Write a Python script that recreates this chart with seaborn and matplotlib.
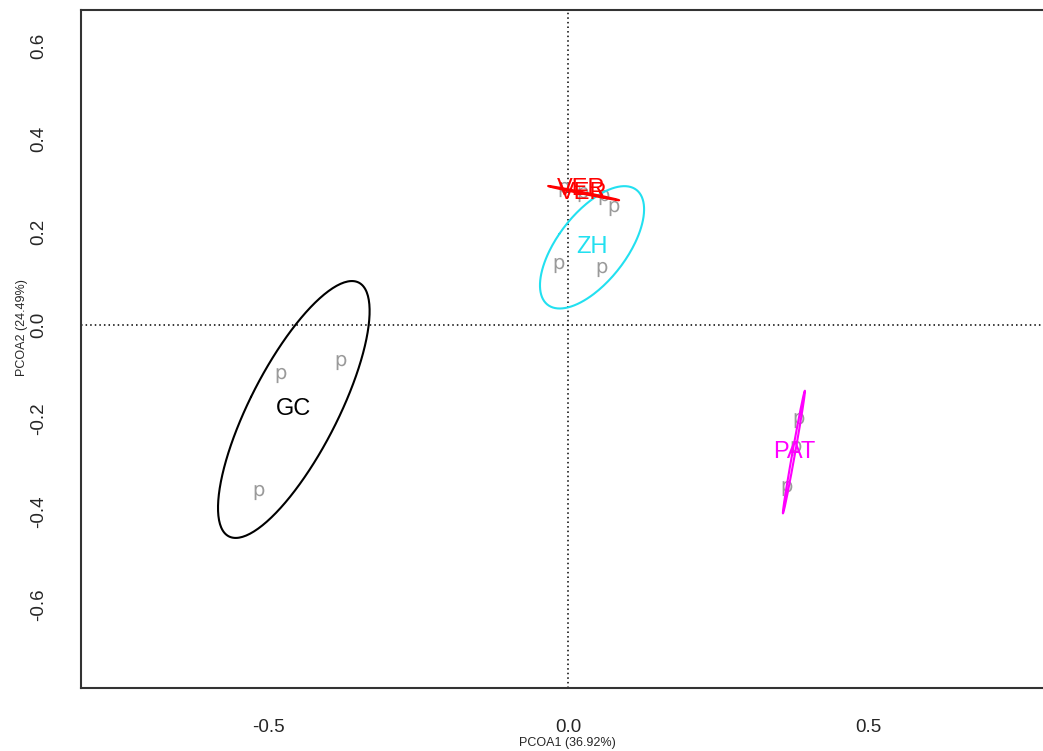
import numpy as np
import pandas as pd
import seaborn as sns
import matplotlib.pyplot as plt

# PCoA scores (one "p" per sample)
groups = ["GC", "GC", "GC", "ZH", "ZH", "ZH", "VER", "VER", "VER", "PAT", "PAT", "PAT"]
pcoa1 = [-0.479, -0.379, -0.515, -0.015, 0.057, 0.077, -0.007, 0.025, 0.059, 0.385, 0.379, 0.365]
pcoa2 = [-0.107, -0.079, -0.358, 0.129, 0.120, 0.251, 0.292, 0.282, 0.275, -0.204, -0.264, -0.350]
group_order = ["GC", "ZH", "VER", "PAT"]
group_colors = {"GC": "black", "ZH": "#22E0F0", "VER": "red", "PAT": "magenta"}
xticks = [-0.5, 0.0, 0.5]
yticks = [-0.6, -0.4, -0.2, 0.0, 0.2, 0.4, 0.6]
xlab = "PCOA1 (36.92%)"
ylab = "PCOA2 (24.49%)"

df = pd.DataFrame({"group": groups, "PCOA1": pcoa1, "PCOA2": pcoa2})

sns.set_style("white")
plt.rcParams['font.family'] = ['Liberation Sans', 'DejaVu Sans']

fig = plt.figure(figsize=(10.43, 7.51), dpi=100)
ax = fig.add_axes([0.0777, 0.0839, 0.9328, 0.9028])

ax.axvline(0, color="black", ls=(0, (1, 2)), lw=1.1, zorder=1)
ax.axhline(0, color="black", ls=(0, (1, 2)), lw=1.1, zorder=1)

# sample points drawn as "p" like pch='p' in R
sns.scatterplot(data=df, x="PCOA1", y="PCOA2", marker="$\\mathsf{p}$", color="#9a9a9a",
                s=120, linewidth=0, legend=False, ax=ax, zorder=2)

# sd ellipses (conf 0.8) + group labels at the centroid
scale = np.sqrt(-2 * np.log(1 - 0.8))
t = np.linspace(0, 2 * np.pi, 200)
for g in group_order:
    sub = df[df.group == g][["PCOA1", "PCOA2"]].values
    cen = sub.mean(axis=0)
    cv = np.cov(sub.T)
    vals, vecs = np.linalg.eigh(cv)
    vals = np.clip(vals, 0, None)
    circ = np.vstack([np.cos(t), np.sin(t)])
    pts = vecs @ (np.sqrt(vals)[:, None] * scale * circ) + cen[:, None]
    ax.plot(pts[0], pts[1], color=group_colors[g], lw=1.5, zorder=3)
    ax.text(cen[0], cen[1], g, color=group_colors[g], fontsize=17, ha="center", va="center", zorder=4)
    if g == "VER":
        ax.annotate(g, (cen[0], cen[1]), xytext=(-2, 3), textcoords="offset points",
                    color=group_colors[g], fontsize=17, ha="center", va="center", zorder=4)

ax.set_xlim(-0.8125, 0.81)
ax.set_ylim(-0.779, 0.676)
ax.set_xticks(xticks)
ax.set_xticklabels(["-0.5", "0.0", "0.5"])
ax.set_yticks(yticks)
ax.set_yticklabels(["%.1f" % v for v in yticks], rotation=90, va="center")
ax.tick_params(axis="both", direction="out", width=1.2, color="#333333", labelsize=13.5)
ax.tick_params(axis="x", length=7.5, pad=15)
ax.tick_params(axis="y", length=11.5, pad=13)

for sp in ["left", "bottom", "top"]:
    ax.spines[sp].set_color("#333333")
    ax.spines[sp].set_linewidth(1.5)
ax.spines["right"].set_visible(False)

ax.set_xlabel(xlab, fontsize=9)
ax.set_ylabel(ylab, fontsize=9)
ax.xaxis.set_label_coords(0.4995, -0.073)
ax.yaxis.set_label_coords(-0.0545, 0.532)

plt.savefig("out.png", dpi=100)
